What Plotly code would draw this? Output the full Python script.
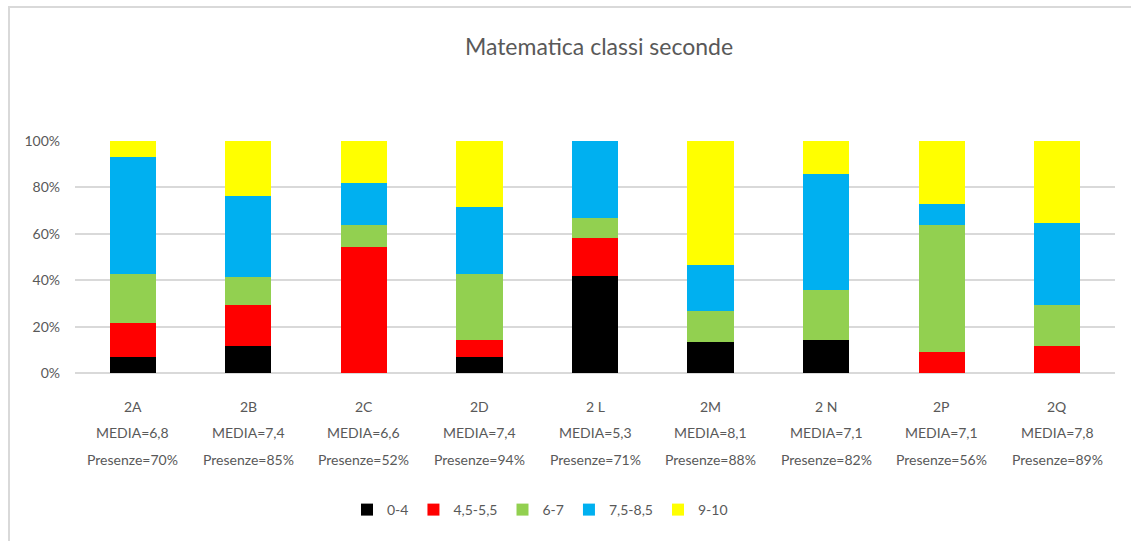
from plotly import graph_objects as go

# classes and the info lines shown under each bar
classes = ["2A", "2B", "2C", "2D", "2 L", "2M", "2 N", "2P", "2Q"]
media = ["6,8", "7,4", "6,6", "7,4", "5,3", "8,1", "7,1", "7,1", "7,8"]
presenze = ["70%", "85%", "52%", "94%", "71%", "88%", "82%", "56%", "89%"]

# share of students per grade band (percent)
band_names = ["0-4", "4,5-5,5", "6-7", "7,5-8,5", "9-10"]
band_0_4 = [7.1, 11.8, 0, 7.1, 41.7, 13.3, 14.3, 0, 0]
band_45_55 = [14.3, 17.6, 54.5, 7.1, 16.7, 0, 0, 9.1, 11.8]
band_6_7 = [21.4, 11.8, 9.1, 28.6, 8.3, 13.3, 21.4, 54.5, 17.6]
band_75_85 = [50.0, 35.3, 18.2, 28.6, 33.3, 20.0, 50.0, 9.1, 35.3]
band_9_10 = [7.1, 23.5, 18.2, 28.6, 0, 53.3, 14.3, 27.3, 35.3]

y_ticks = [0, 20, 40, 60, 80, 100]
y_tick_labels = ["0%", "20%", "40%", "60%", "80%", "100%"]

colors = ["#000000", "#ff0000", "#92d050", "#00b0f0", "#ffff00"]
series = [band_0_4, band_45_55, band_6_7, band_75_85, band_9_10]

FONT = "Lato, 'Open Sans', sans-serif"
GREY = "#595959"

fig = go.Figure()
for name, values, color in zip(band_names, series, colors):
    fig.add_trace(go.Bar(name=name, x=classes, y=values, marker_color=color,
                         marker_line_width=0))

# three-line category labels
line_sets = [classes,
             ["MEDIA=" + m for m in media],
             ["Presenze=" + p for p in presenze]]
for row, texts in enumerate(line_sets):
    for cls, txt in zip(classes, texts):
        fig.add_annotation(x=cls, xref="x", y=0, yref="paper", yanchor="middle",
                           yshift=-33 - 26.5 * row, text=txt, showarrow=False,
                           font=dict(family=FONT, size=14, color=GREY))

# outer chart border (top and left edges visible)
fig.add_shape(type="line", xref="paper", yref="paper",
              x0=(8 - 75) / 1040, x1=(1131 - 75) / 1040,
              y0=(373 - 7) / 232, y1=(373 - 7) / 232,
              line=dict(color="#d9d9d9", width=2))
fig.add_shape(type="line", xref="paper", yref="paper",
              x0=(9 - 75) / 1040, x1=(9 - 75) / 1040,
              y0=(373 - 7) / 232, y1=(373 - 541) / 232,
              line=dict(color="#d9d9d9", width=2))

fig.update_layout(
    barmode="stack",
    barnorm="percent",
    bargap=0.6,
    width=1131,
    height=541,
    margin=dict(l=75, r=16, t=141, b=168),
    paper_bgcolor="white",
    plot_bgcolor="white",
    font=dict(family=FONT, color=GREY),
    title=dict(text="Matematica classi seconde", x=599 / 1131, xanchor="center",
               y=1 - 47 / 541, yanchor="middle",
               font=dict(family=FONT, size=23, color=GREY)),
    legend=dict(orientation="h", x=(540 - 75) / 1040, xref="paper",
                xanchor="center", y=(373 - 510) / 232, yanchor="middle",
                font=dict(family=FONT, size=14, color=GREY),
                itemwidth=30, traceorder="normal"),
)
fig.update_xaxes(showticklabels=False, showline=False, ticks="")
fig.update_yaxes(range=[0, 100], tickvals=y_ticks, ticktext=y_tick_labels,
                 showgrid=True, gridcolor="#d9d9d9",
                 gridwidth=1.5, zeroline=True, zerolinecolor="#d9d9d9",
                 zerolinewidth=1.5, ticklabelstandoff=14,
                 tickfont=dict(family=FONT, size=14, color=GREY))

fig.write_html("out.html", config={"displayModeBar": False},
               post_script="document.body.style.margin='0px';")
